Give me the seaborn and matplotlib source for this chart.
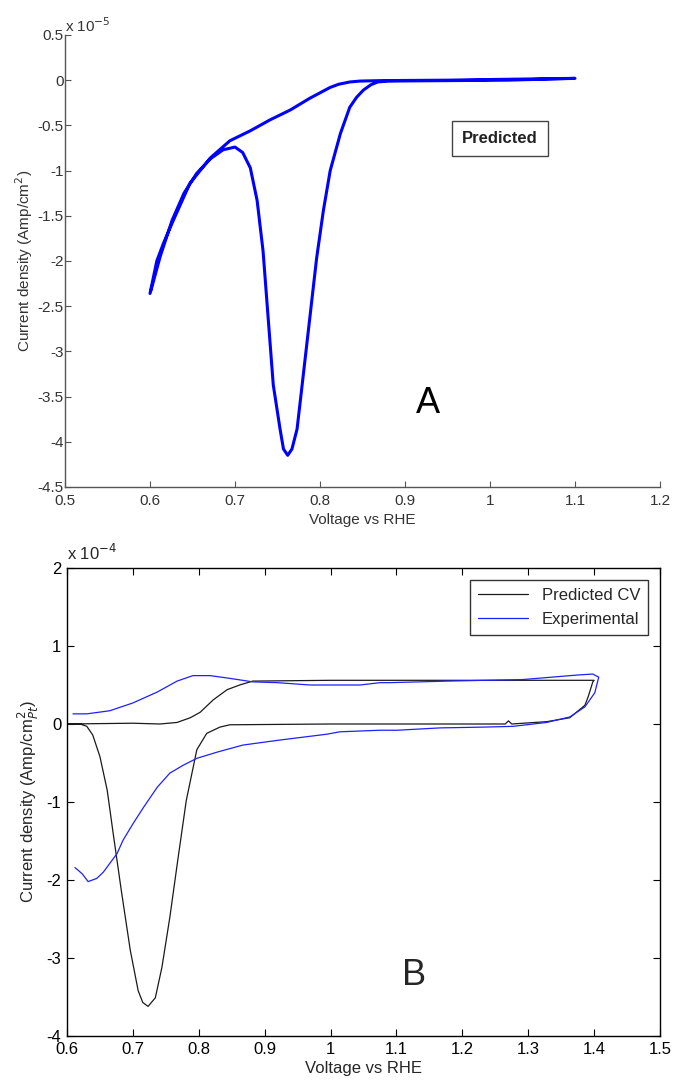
import numpy as np
import pandas as pd
import seaborn as sns
import matplotlib.pyplot as plt
from matplotlib.ticker import FormatStrFormatter

# panel A: predicted CV, current in units of 1e-5 Amp/cm^2 (one scan, in order)
volt_a = [0.600, 0.604, 0.608, 0.616, 0.627, 0.647, 0.671, 0.694, 0.718, 0.741,
          0.765, 0.788, 0.800, 0.812, 0.822, 0.835, 0.847, 0.871, 0.950, 1.020, 1.100,
          1.020, 0.950, 0.880, 0.868, 0.860, 0.851, 0.843, 0.835, 0.824, 0.812,
          0.804, 0.796, 0.788, 0.779, 0.773, 0.767, 0.762, 0.757, 0.753, 0.745,
          0.739, 0.733, 0.726, 0.718, 0.709, 0.700, 0.686, 0.671, 0.655, 0.640,
          0.626, 0.612, 0.601]
curr_a = [-2.36, -2.18, -2.00, -1.80, -1.56, -1.14, -0.86, -0.67, -0.56, -0.44,
          -0.33, -0.20, -0.14, -0.08, -0.045, -0.02, -0.01, -0.005, 0.00, 0.01, 0.02,
          0.00, -0.005, -0.01, -0.02, -0.05, -0.11, -0.19, -0.30, -0.59, -1.00,
          -1.44, -1.97, -2.63, -3.37, -3.86, -4.08, -4.15, -4.08, -3.86, -3.37,
          -2.63, -1.89, -1.33, -0.97, -0.80, -0.74, -0.77, -0.87, -1.03, -1.25,
          -1.55, -1.95, -2.33]

# panel B: current in units of 1e-4 Amp/cm^2_Pt
volt_pred = [0.600, 0.620, 0.630, 0.639, 0.650, 0.661, 0.670, 0.683, 0.696, 0.708,
             0.715, 0.723, 0.734, 0.744, 0.756, 0.768, 0.781, 0.797, 0.812, 0.832,
             0.847, 1.000, 1.200, 1.265, 1.270, 1.275, 1.328, 1.363, 1.386, 1.391,
             1.398, 1.400, 1.200, 1.000, 0.882, 0.862, 0.843, 0.822, 0.802, 0.787,
             0.767, 0.741, 0.700, 0.600]
curr_pred = [0.00, 0.00, -0.03, -0.14, -0.42, -0.85, -1.40, -2.17, -2.90, -3.42,
             -3.57, -3.62, -3.51, -3.12, -2.48, -1.75, -0.98, -0.33, -0.12, -0.04,
             -0.01, 0.00, 0.00, 0.00, 0.04, 0.00, 0.03, 0.08, 0.24, 0.35,
             0.54, 0.56, 0.56, 0.56, 0.55, 0.50, 0.44, 0.31, 0.15, 0.08,
             0.02, 0.00, 0.01, 0.00]

volt_exp = [0.609, 0.630, 0.665, 0.700, 0.737, 0.767, 0.791, 0.817, 0.843, 0.882,
            0.919, 0.969, 1.014, 1.045, 1.075, 1.090, 1.178, 1.292, 1.378, 1.398,
            1.407, 1.401, 1.386, 1.363, 1.328, 1.277, 1.231, 1.166, 1.101, 1.075,
            1.014, 0.995, 0.919, 0.867, 0.828, 0.797, 0.776, 0.756, 0.737, 0.716,
            0.700, 0.685, 0.676, 0.655, 0.645, 0.632, 0.623, 0.612]
curr_exp = [0.13, 0.13, 0.17, 0.27, 0.41, 0.55, 0.62, 0.62, 0.59, 0.54,
            0.53, 0.50, 0.50, 0.50, 0.53, 0.53, 0.55, 0.57, 0.63, 0.64,
            0.60, 0.40, 0.22, 0.09, 0.02, -0.03, -0.04, -0.05, -0.08, -0.08,
            -0.10, -0.13, -0.21, -0.27, -0.36, -0.44, -0.53, -0.63, -0.81, -1.07,
            -1.28, -1.49, -1.66, -1.90, -1.98, -2.02, -1.92, -1.84]

sns.set_style("white")
plt.rcParams["font.family"] = ["Liberation Sans", "DejaVu Sans"]
plt.rcParams["axes.unicode_minus"] = False

fig = plt.figure(figsize=(6.75, 10.86), dpi=100)
ax1 = fig.add_axes([0.0963, 0.5516, 0.8815, 0.4162])
ax2 = fig.add_axes([0.0993, 0.0460, 0.8785, 0.4310])

grey = "#333333"

# ---- panel A ----
df_a = pd.DataFrame({"v": volt_a, "j": curr_a})
sns.lineplot(data=df_a, x="v", y="j", sort=False, estimator=None,
             color="#0000ff", linewidth=2.2, ax=ax1)
ax1.set_xlim(0.5, 1.2)
ax1.set_ylim(-4.5, 0.5)
ax1.set_xticks(np.arange(0.5, 1.21, 0.1))
ax1.set_yticks(np.arange(-4.5, 0.51, 0.5))
ax1.xaxis.set_major_formatter(FormatStrFormatter("%g"))
ax1.yaxis.set_major_formatter(FormatStrFormatter("%g"))
for s in ["top", "right"]:
    ax1.spines[s].set_visible(False)
for s in ["left", "bottom"]:
    ax1.spines[s].set_color("#555555")
    ax1.spines[s].set_linewidth(1.0)
ax1.tick_params(direction="in", length=4, width=0.8, colors="#555555",
                labelcolor=grey, labelsize=11, left=True, bottom=True)
ax1.tick_params(axis="x", pad=5)
ax1.tick_params(axis="y", pad=1)
ax1.set_xlabel("Voltage vs RHE", fontsize=11, color=grey, labelpad=4)
ax1.set_ylabel("Current density (Amp/cm$^2$)", fontsize=11, color=grey, labelpad=2)
ax1.text(0.0, 1.0, r"x 10$^{-5}$", transform=ax1.transAxes, fontsize=11,
         color=grey, ha="left", va="bottom")
ax1.text(0.731, 0.772, "Predicted", transform=ax1.transAxes, fontsize=12,
         fontweight="bold", color="#222222", ha="center", va="center",
         bbox=dict(boxstyle="square,pad=0.6", fc="white", ec="#444444", lw=1))
ax1.text(0.61, 0.185, "A", transform=ax1.transAxes, fontsize=26,
         color="black", ha="center", va="center")

# ---- panel B ----
df_p = pd.DataFrame({"v": volt_pred, "j": curr_pred})
df_e = pd.DataFrame({"v": volt_exp, "j": curr_exp})
sns.lineplot(data=df_p, x="v", y="j", sort=False, estimator=None,
             color="#1a1a1a", linewidth=0.9, ax=ax2, label="Predicted CV")
sns.lineplot(data=df_e, x="v", y="j", sort=False, estimator=None,
             color="#1f1fff", linewidth=0.9, ax=ax2, label="Experimental")
ax2.set_xlim(0.6, 1.5)
ax2.set_ylim(-4, 2)
ax2.set_xticks(np.arange(0.6, 1.51, 0.1))
ax2.set_yticks(np.arange(-4, 2.1, 1))
ax2.xaxis.set_major_formatter(FormatStrFormatter("%g"))
ax2.yaxis.set_major_formatter(FormatStrFormatter("%g"))
for s in ax2.spines.values():
    s.set_color("black")
    s.set_linewidth(1.0)
ax2.tick_params(direction="in", length=5, width=0.8, colors="black",
                labelsize=12, pad=4, left=True, bottom=True, top=True, right=True)
ax2.set_xlabel("Voltage vs RHE", fontsize=12, labelpad=3)
ax2.set_ylabel("Current density (Amp/cm$^2_{Pt}$)", fontsize=12, labelpad=4)
ax2.text(0.0, 1.01, r"x 10$^{-4}$", transform=ax2.transAxes, fontsize=12,
         ha="left", va="bottom")
ax2.text(0.585, 0.13, "B", transform=ax2.transAxes, fontsize=26,
         ha="center", va="center")
leg = ax2.legend(loc="upper right", fontsize=12, frameon=True, fancybox=False,
                 borderaxespad=0.7, handlelength=3.0, labelspacing=0.55,
                 borderpad=0.5)
leg.get_frame().set_edgecolor("black")
leg.get_frame().set_linewidth(1.0)

fig.savefig("out.png", dpi=100)
